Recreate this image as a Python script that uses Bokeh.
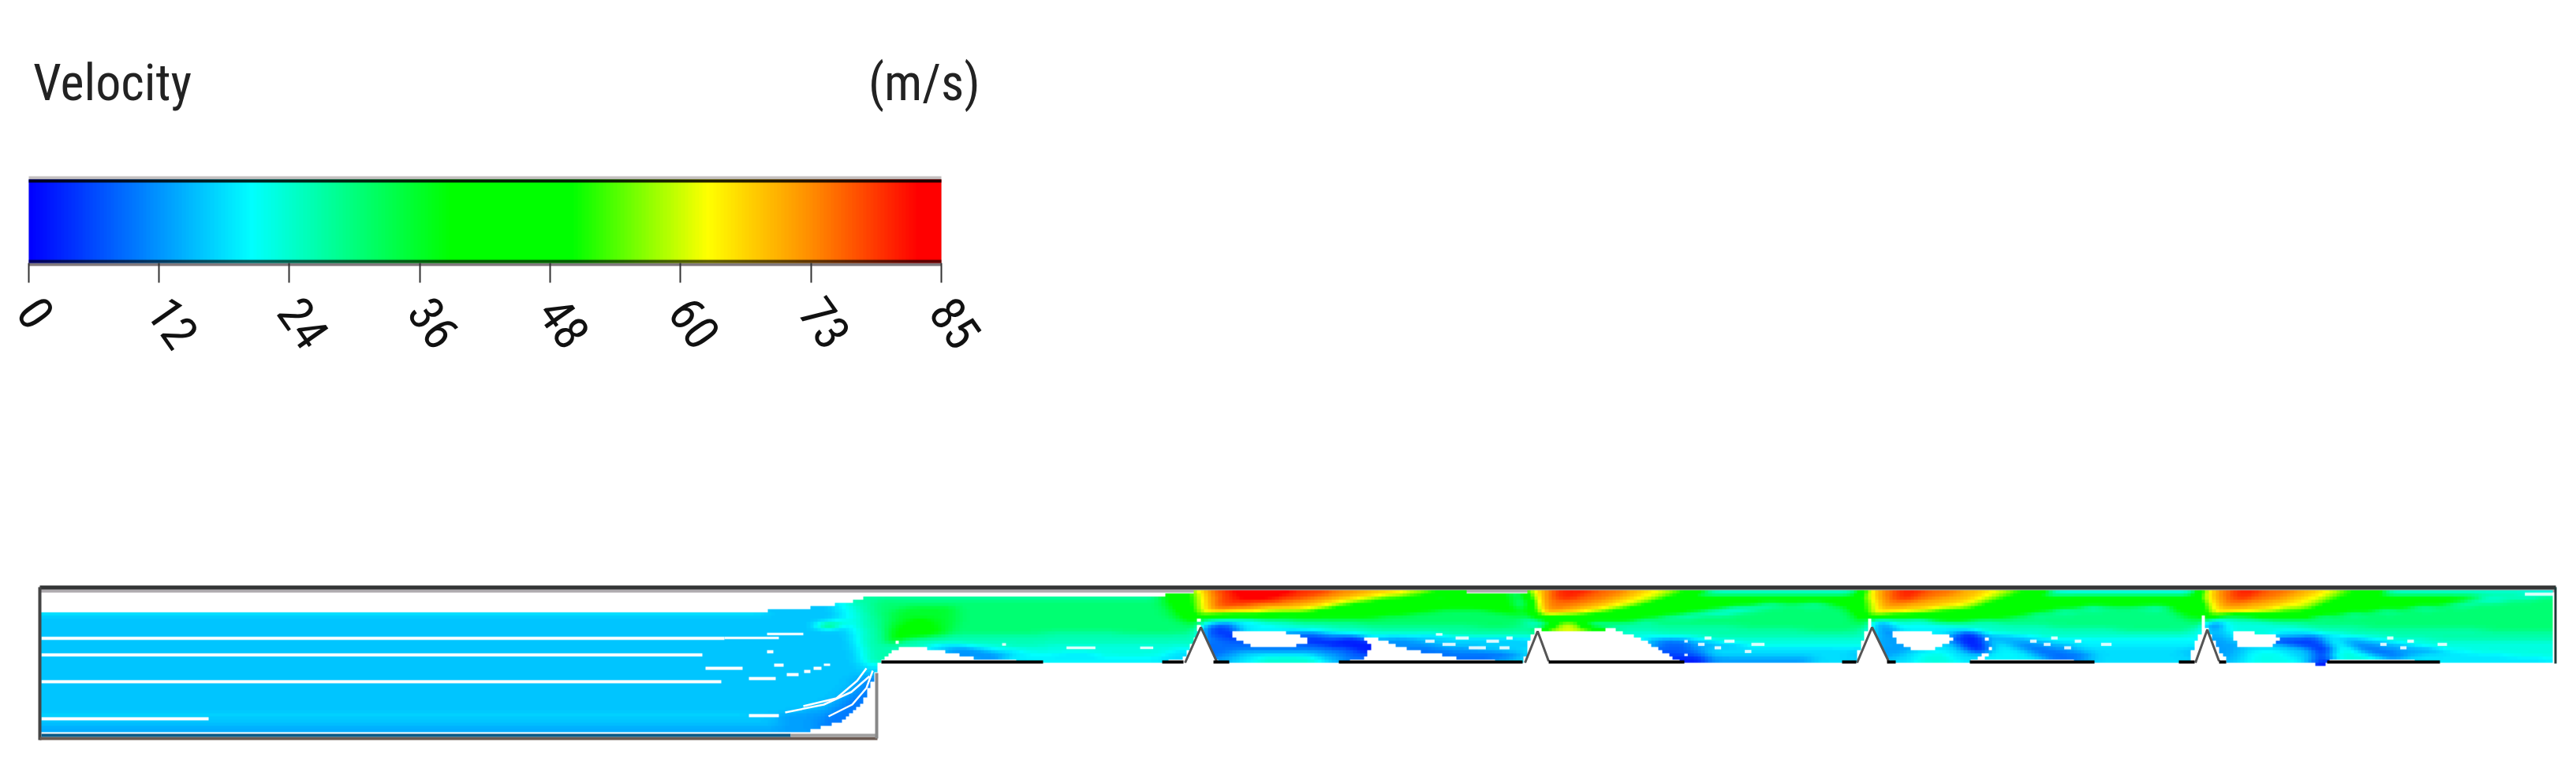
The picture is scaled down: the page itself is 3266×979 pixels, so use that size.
from bokeh.plotting import figure
from bokeh.layouts import column
from bokeh.models import LinearColorMapper, Range1d, FixedTicker, Label
from bokeh.embed import file_html
from bokeh.resources import INLINE
import numpy as np

# ---- colour scale --------------------------------------------------------
V_MIN, V_MAX = 0, 85
stop_v = [0, 20.7, 30, 39.3, 50.7, 63.3, 73, 83, 85]
stop_rgb = [(0,0,255),(0,255,255),(0,255,128),(0,255,0),(0,255,0),(255,255,0),(255,140,0),(255,0,0),(255,0,0)]
tick_values = [0, 12.14, 24.28, 36.43, 48.57, 60.71, 72.86, 85]
tick_labels = ["0", "12", "24", "36", "48", "60", "73", "85"]

lv = np.arange(256) / 255 * (V_MAX - V_MIN)
palette = ["#%02x%02x%02x" % tuple(int(round(np.interp(a, stop_v, [c[i] for c in stop_rgb]))) for i in range(3)) for a in lv]
mapper = LinearColorMapper(palette=palette, low=V_MIN, high=V_MAX, nan_color="#00000000")

# ---- velocity regions: (velocity, outline) in crop units of each section ---
INLET = [
 (16, [(52,777),(972,777),(972,773),(1025,773),(1025,768),(1056,768),(1056,764),(1086,764),(1086,760),(1110,756),(1113,840),(1109,853),(1094,890),(1071,912),(1033,925),(1002,930),(52,930)]),
 (19, [(52,777),(972,777),(972,781),(52,781)]),
 (18, [(52,905),(950,905),(950,909),(52,909)]),
 (14, [(52,922),(1000,922),(1002,930),(52,930)]),
 (13, [(985,905),(1040,900),(1075,875),(1095,850),(1109,853),(1094,890),(1071,912),(1033,925),(1002,930),(985,925)]),
 (10, [(1040,912),(1070,893),(1093,868),(1107,852),(1109,853),(1094,890),(1071,912),(1033,925)]),
]
SEC_A = [
 (21, [(170,68),(260,45),(335,38),(345,285),(300,330),(270,270),(230,170),(190,100)]),
 (27, [(240,50),(335,28),(1430,28),(1560,170),(1540,190),(1500,205),(700,205),(400,205),(350,285),(300,285),(285,200),(265,100)]),
 (31, [(320,42),(1430,42),(1555,165),(1500,172),(1000,170),(600,182),(400,198),(365,180),(325,90)]),
 (36, [(390,90),(470,70),(640,65),(620,170),(480,185),(400,195),(370,190)]),
 (41, [(380,218),(375,185),(420,145),(470,120),(530,110),(580,178),(480,188),(420,200)]),
 (36, [(1420,30),(1525,30),(1560,140),(1500,130),(1440,100)]),
 (42, [(1430,25),(1520,25),(1558,130),(1550,158),(1490,110),(1435,60)]),
 (53, [(1505,20),(1530,18),(1566,90),(1566,122),(1540,110)]),
 (26, [(400,208),(700,190),(1500,180),(1545,185),(1530,220),(1500,270),(1410,285),(970,285),(745,272),(665,262),(605,245),(530,235),(530,222),(450,222),(390,240),(350,275)]),
 (23, [(520,210),(850,220),(1450,215),(1520,205),(1500,270),(1410,285),(970,285),(745,272),(665,262),(605,245),(530,235)]),
 (18, [(530,235),(535,210),(640,210),(700,225),(850,240),(1000,250),(1410,262),(1500,225),(1518,220),(1500,270),(1410,285),(970,285),(745,272),(665,262),(605,245)]),
 (20, [(850,252),(1420,262),(1410,285),(970,285),(790,272)]),
 (12, [(605,225),(670,225),(740,240),(850,250),(800,272),(745,272),(665,260),(605,245)]),
]
SEC_B = [
 (20, [(95,150),(100,18),(1380,18),(1370,160),(1340,210),(1325,285),(1075,272),(1070,262),(980,250),(880,235),(800,200),(740,185),(710,185),(745,225),(710,270),(620,285),(210,285),(150,275),(120,220),(110,180)]),
 (24, [(100,120),(500,130),(800,130),(1100,100),(1300,110),(1370,150),(1345,190),(1100,190),(800,180),(500,165),(300,130),(110,130)]),
 (28, [(110,110),(500,125),(800,125),(1100,92),(1300,105),(1370,150),(1340,175),(1100,175),(800,165),(500,140),(300,122)]),
 (32, [(120,110),(500,115),(800,100),(1100,75),(1290,100),(1350,145),(1200,150),(1000,140),(800,140),(500,125),(300,118)]),
 (41, [(100,95),(500,90),(650,70),(800,55),(1000,40),(1100,25),(1285,25),(1295,55),(1345,130),(1300,105),(1180,85),(1000,85),(800,110),(500,122),(100,122)]),
 (50, [(60,3),(1115,3),(1105,20),(1000,35),(800,60),(650,75),(540,95),(130,105),(105,118),(85,118)]),
 (62, [(75,3),(1000,3),(950,20),(800,35),(640,60),(540,85),(400,95),(130,95),(105,108),(85,108)]),
 (68, [(95,3),(900,3),(850,18),(640,45),(540,70),(400,85),(130,92),(108,100)]),
 (73, [(108,3),(780,3),(640,30),(500,60),(350,72),(230,85),(135,90),(125,60)]),
 (79, [(150,3),(640,3),(560,25),(450,45),(350,57),(230,68),(170,80)]),
 (85, [(210,6),(470,6),(350,42),(235,42)]),
 (12, [(740,190),(920,195),(1050,215),(1300,215),(1335,225),(1290,268),(1075,268),(980,250),(880,235),(800,200)]),
 (17, [(900,170),(1100,190),(1340,185),(1340,215),(1290,250),(1100,225),(960,215)]),
 (9,  [(900,222),(1050,245),(1290,255),(1285,270),(1075,272),(1070,262),(980,250),(880,235)]),
 (9,  [(105,140),(215,130),(240,160),(500,165),(520,170),(690,175),(745,225),(710,272),(620,285),(210,285),(150,275),(120,220)]),
 (14, [(165,285),(150,270),(240,235),(510,235),(620,250),(650,285)]),
 (19, [(210,285),(260,250),(520,250),(610,285)]),
 (24, [(290,285),(340,262),(510,262),(570,285)]),
 (2,  [(510,170),(560,200),(700,190),(745,225),(712,260),(650,225),(505,215)]),
 (4,  [(130,145),(200,135),(215,180),(240,210),(180,190),(130,170)]),
]
SEC_C = [
 (23, [(45,135),(60,10),(1310,10),(1310,160),(1280,230),(1270,285),(610,285),(575,270),(520,235),(470,205),(370,165),(320,150),(60,150)]),
 (27, [(260,125),(600,130),(800,120),(1150,110),(1310,140),(1280,195),(800,190),(500,170),(370,165),(320,150),(270,140)]),
 (31, [(400,130),(800,100),(1000,60),(1200,70),(1300,150),(1250,170),(900,150),(600,140)]),
 (42, [(0,20),(30,110),(60,128),(260,125),(400,128),(600,100),(800,70),(1000,55),(1200,65),(1310,150),(1280,28),(690,28)]),
 (29, [(690,18),(1285,18),(1285,28),(690,28)]),
 (50, [(10,3),(690,3),(690,18),(560,45),(400,85),(270,105),(60,112),(30,60)]),
 (62, [(25,3),(610,3),(500,45),(400,72),(270,95),(60,110),(40,60)]),
 (69, [(50,3),(520,3),(400,45),(260,85),(60,105),(55,50)]),
 (75, [(80,3),(430,3),(330,40),(200,72),(90,90)]),
 (81, [(130,3),(300,3),(200,40),(130,50)]),
 (62, [(65,160),(65,148),(105,148),(105,133),(230,133),(230,148),(320,148),(320,160)]),
 (14, [(470,190),(600,190),(800,215),(1000,235),(1230,240),(1280,230),(1270,285),(610,285),(575,270),(520,235)]),
 (18, [(700,225),(1250,225),(1270,285),(700,285)]),
 (8,  [(500,205),(620,205),(700,262),(1100,262),(1100,285),(610,285),(575,270),(520,235)]),
 (2,  [(550,235),(620,262),(690,262),(690,285),(610,285),(570,262)]),
 (13, [(700,265),(1100,265),(1100,285),(700,285)]),
]
SEC_D = [
 (20, [(60,150),(70,10),(1320,10),(1320,160),(1290,230),(1280,285),(920,285),(750,272),(495,272),(520,235),(505,185),(440,285),(130,285),(100,220)]),
 (25, [(100,120),(500,130),(800,125),(1150,110),(1320,140),(1280,190),(800,190),(500,170),(300,140),(100,135)]),
 (30, [(450,125),(800,90),(1000,70),(1200,80),(1310,150),(1250,170),(900,155),(600,140)]),
 (42, [(0,20),(40,110),(100,120),(430,125),(600,110),(800,80),(1000,65),(1200,75),(1320,150),(1285,28),(750,28)]),
 (29, [(750,18),(1295,18),(1295,28),(750,28)]),
 (50, [(20,3),(750,3),(740,22),(560,55),(430,95),(200,105),(100,108),(50,125),(30,60)]),
 (62, [(35,3),(640,3),(560,30),(430,75),(270,90),(100,100),(60,110)]),
 (69, [(60,3),(540,3),(430,50),(280,80),(90,100)]),
 (75, [(100,3),(430,3),(350,35),(200,62),(120,70)]),
 (81, [(160,3),(300,3),(220,40),(160,40)]),
 (14, [(495,175),(620,185),(800,215),(1000,240),(1225,240),(1290,225),(1280,285),(920,285),(750,272),(690,255),(600,225),(530,195)]),
 (18, [(850,225),(1250,225),(1280,285),(915,285)]),
 (9,  [(600,205),(720,225),(900,255),(1000,262),(750,272),(690,255)]),
 (13, [(85,135),(130,125),(150,190),(215,235),(160,285),(130,275),(100,220)]),
 (18, [(340,150),(400,150),(500,190),(520,235),(440,285),(160,285),(130,275),(215,235),(340,220)]),
 (23, [(220,285),(250,250),(340,240),(410,285)]),
 (8,  [(90,135),(130,130),(150,180),(120,170)]),
 (2,  [(380,200),(400,170),(470,170),(520,225),(490,250),(430,240)]),
]
SEC_E = [
 (23, [(45,150),(60,10),(1378,10),(1378,287),(940,287),(750,272),(510,272),(530,230),(510,197),(470,285),(135,285),(100,240),(70,180)]),
 (27, [(100,115),(500,125),(800,110),(1100,100),(1378,90),(1378,200),(900,195),(500,165),(300,135),(100,130)]),
 (31, [(120,108),(500,112),(800,85),(1100,60),(1378,30),(1378,170),(1000,155),(700,150),(500,140),(300,125)]),
 (42, [(0,20),(40,110),(90,108),(430,115),(600,95),(800,78),(1000,60),(1120,30),(725,30)]),
 (29, [(725,18),(1262,18),(1262,30),(725,30)]),
 (50, [(10,3),(725,3),(725,22),(560,55),(430,100),(250,108),(100,105),(50,125),(30,60)]),
 (62, [(25,3),(610,3),(560,20),(430,75),(270,95),(100,100),(50,110)]),
 (69, [(50,3),(520,3),(400,50),(260,85),(90,100)]),
 (75, [(90,3),(420,3),(330,40),(200,62),(115,75)]),
 (81, [(150,3),(290,3),(210,40),(150,40)]),
 (14, [(470,175),(620,190),(800,215),(950,235),(1000,260),(945,285),(750,272),(640,245),(545,197)]),
 (19, [(750,265),(1000,240),(1378,270),(1378,287),(940,287)]),
 (9,  [(580,205),(700,225),(820,255),(750,272),(640,245)]),
 (13, [(60,135),(100,120),(130,190),(175,222),(135,285),(100,240),(70,180)]),
 (17, [(240,175),(430,165),(510,197),(530,240),(470,285),(135,285),(175,222),(305,222)]),
 (22, [(190,285),(220,240),(320,235),(420,285)]),
 (5,  [(340,190),(470,180),(530,225),(510,260),(430,230),(320,208)]),
 (1,  [(470,225),(530,225),(510,285),(508,297),(470,297),(470,280)]),
 (6,  [(60,135),(95,125),(100,155),(70,165)]),
]
sections = [(1000, SEC_A), (1490, SEC_B), (1930, SEC_C), (2350, SEC_D), (2780, SEC_E)]

# holes in the solution, in crop units of a section
HOLES = [
 (1490, [(220,160),(400,160),(420,172),(500,190),(500,208),(450,222),(285,222),(225,190),(215,175)]),
 (2350, [(148,160),(290,160),(290,172),(340,172),(378,197),(340,220),(310,232),(215,232),(165,210),(148,185)]),
 (2780, [(150,160),(240,160),(240,172),(305,172),(330,197),(305,222),(175,222),(150,185)]),
]
SPECKS = [  # ox, x0, y0, x1, y1 (crop units)
 (1000,810,210,825,220),(1000,1055,223,1165,233),(1000,1335,223,1385,233),
 (1490,990,172,1015,182),(1490,1065,185,1115,197),(1490,950,197,985,209),(1490,1015,209,1065,221),(1490,1182,197,1230,209),(1490,1115,222,1180,234),(1490,1232,222,1270,234),(1490,1258,185,1282,197),
 (1930,692,185,718,197),(1930,767,197,806,209),(1930,667,209,692,221),(1930,870,209,920,221),(1930,730,222,755,234),(1930,845,236,870,248),(1930,615,198,628,208),(1930,615,250,628,260),
 (2350,750,185,775,197),(2350,840,197,865,209),(2350,670,197,695,209),(2350,722,209,748,221),(2350,800,222,826,234),(2350,940,209,980,221),
 (2780,738,185,762,197),(2780,815,197,840,209),(2780,712,209,736,221),(2780,788,222,812,234),(2780,930,209,966,221),
 (2780,1262,18,1378,30),
]
INLET_GAPS = [  # x0, y0, x1, y1
 (52,807,918,811),(52,828,890,832),(52,862,914,866),(52,909,264,913),(949,905,987,909),
 (894,845,941,849),(949,858,983,862),(997,853,1012,857),(981,841,993,845),(972,824,980,828),(1019,849,1027,853),(1031,845,1041,849),(1044,841,1052,844),
 (918,807,987,810),(972,802,1018,805),
]
ARC_X = [[995,1044,1079,1102],[1018,1060,1086,1098],[1050,1080,1098,1106]]
ARC_Y = [[903,893,877,857],[895,885,863,847],[908,893,872,850]]
SPOT_V = [30,30,52,42]
SPOT_BOX = [(1040,790,1057,798),(1061,785,1069,793),(1044,794,1052,798),(1062,789,1066,792)]

RIB_X = [(1502,1522,1542),(1933,1949,1963),(2354,2373,2394),(2783,2798,2813)]
RIB_Y = [(840,795,838),(840,800,838),(840,795,838),(840,798,838)]
FLOOR = [(1117,1322),(1473,1500),(1538,1558),(1697,1930),(1963,2135),(2335,2353),(2392,2403),(2497,2655),(2762,2782),(2813,2822),(2950,3093)]

PAGE_W = 3260
units_per_px = (V_MAX - V_MIN) / (1193 - 36)

# ---- legend ---------------------------------------------------------------
leg = figure(width=PAGE_W, height=480,
             x_range=Range1d(V_MIN - 36 * units_per_px, V_MAX + (PAGE_W - 1193) * units_per_px),
             y_range=Range1d(337, 50),
             output_backend="svg", toolbar_location=None, min_border_left=0, min_border_right=0,
             min_border_top=50, min_border_bottom=143, outline_line_color=None)
leg.grid.visible = False
leg.yaxis.visible = False
ax = leg.xaxis[0]
ax.ticker = FixedTicker(ticks=tick_values)
ax.major_label_overrides = {t: s for t, s in zip(tick_values, tick_labels)}
ax.major_label_orientation = -0.96
ax.major_label_standoff = 26
ax.major_label_text_font = "Roboto Condensed"
ax.major_label_text_font_size = "62px"
ax.major_label_text_color = "#111111"
ax.major_tick_in = 4
ax.major_tick_out = 21
ax.major_tick_line_color = "#333333"
ax.major_tick_line_width = 2
ax.minor_tick_line_color = None
ax.axis_line_color = None

leg.quad(left=[V_MIN], right=[V_MAX], top=[223], bottom=[337], fill_color="#c4c0c0", line_color=None)
leg.quad(left=[V_MIN], right=[V_MAX], top=[333], bottom=[337], fill_color="#80787c", line_color=None)
ramp = np.linspace(V_MIN, V_MAX, 1024).reshape(1, -1)
leg.image(image=[ramp], x=V_MIN, y=227, dw=V_MAX - V_MIN, dh=106, color_mapper=mapper)
leg.quad(left=[V_MIN], right=[V_MAX], top=[227], bottom=[231], fill_color="black", fill_alpha=0.88, line_color=None)
leg.quad(left=[V_MIN], right=[V_MAX], top=[329], bottom=[333], fill_color="black", fill_alpha=0.62, line_color=None)

for txt, xv in (("Velocity", 0.4), ("(m/s)", 78.2)):
    leg.add_layout(Label(x=xv, y=105, text=txt, text_font="Roboto Condensed", text_font_size="64px",
                         text_color="#222222", text_baseline="alphabetic", text_align="left"))

# ---- flow domain -----------------------------------------------------------
dom = figure(width=PAGE_W, height=480, x_range=Range1d(0, PAGE_W), y_range=Range1d(960, 480),
             output_backend="svg", toolbar_location=None, min_border=0, outline_line_color=None)
dom.grid.visible = False
dom.axis.visible = False

# sample the regions on the solver's cell grid
CX, CY = 4.5, 4.0
X0, Y0 = 50.0, 748.0
nx, ny = int((3240 - X0) / CX), int((944 - Y0) / CY)
cx = X0 + (np.arange(nx) + 0.5) * CX
cy = Y0 + (np.arange(ny) + 0.5) * CY
GX, GY = np.meshgrid(cx, cy)
field = np.full(GX.shape, np.nan)

def inside(pts):
    px = np.array([p[0] for p in pts], float); py = np.array([p[1] for p in pts], float)
    i0 = max(int((px.min() - X0) / CX) - 1, 0); i1 = min(int((px.max() - X0) / CX) + 2, nx)
    j0 = max(int((py.min() - Y0) / CY) - 1, 0); j1 = min(int((py.max() - Y0) / CY) + 2, ny)
    m = np.zeros(GX.shape, bool)
    if i0 >= i1 or j0 >= j1:
        return m
    x = GX[j0:j1, i0:i1]; y = GY[j0:j1, i0:i1]
    c = np.zeros(x.shape, bool)
    for k in range(len(px)):
        a, b = k, (k + 1) % len(px)
        cross = (py[a] > y) != (py[b] > y)
        xi = px[a] + (y - py[a]) * (px[b] - px[a]) / (py[b] - py[a] + 1e-9)
        c ^= cross & (x < xi)
    m[j0:j1, i0:i1] = c
    return m

for v, pts in INLET:
    field[inside(pts)] = v
for ox, layers in sections:
    for v, pts in layers:
        field[inside([(ox + a / 3, 745 + b / 3) for a, b in pts])] = v
for ox, h in HOLES:
    field[inside([(ox + a / 3, 745 + b / 3) for a, b in h])] = np.nan
for v, b in zip(SPOT_V, SPOT_BOX):
    field[inside([(b[0], b[1]), (b[2], b[1]), (b[2], b[3]), (b[0], b[3])])] = v

# the solver's cells blend into one another
def soften(a, sigma, axis):
    r = int(3 * sigma)
    k = np.exp(-0.5 * (np.arange(-r, r + 1) / sigma) ** 2); k /= k.sum()
    return np.apply_along_axis(lambda s: np.convolve(s, k, mode="same"), axis, a)
mask = ~np.isnan(field)
num = np.where(mask, field, 0.0); den = mask.astype(float)
for sigma, axis in ((2.2, 1), (0.8, 0)):
    num = soften(num, sigma, axis); den = soften(den, sigma, axis)
smooth = np.where(mask, num / np.maximum(den, 1e-6), np.nan)

dom.quad(left=[50], right=[3240], top=[746], bottom=[751], fill_color="#b0acb0", line_color=None)
dom.image(image=[smooth], x=X0, y=Y0, dw=nx * CX, dh=ny * CY, color_mapper=mapper)

sp = SPECKS
dom.quad(left=[s[0] + s[1] / 3 for s in sp], right=[s[0] + s[3] / 3 for s in sp],
         top=[745 + s[2] / 3 for s in sp], bottom=[745 + s[4] / 3 for s in sp], fill_color="white", fill_alpha=0.85, line_color=None)
g = INLET_GAPS
dom.quad(left=[s[0] for s in g], right=[s[2] for s in g], top=[s[1] for s in g], bottom=[s[3] for s in g],
         fill_color="white", line_color=None)
dom.multi_line(ARC_X, ARC_Y, line_color="white", line_width=2.5)

# walls
dom.patches([list(x) for x in RIB_X], [list(y) for y in RIB_Y], fill_color="white", line_color=None)
dom.multi_line([list(x) for x in RIB_X], [list(y) for y in RIB_Y], line_color="#555555", line_width=3)
dom.quad(left=[f[0] for f in FLOOR], right=[f[1] for f in FLOOR], top=837, bottom=841, fill_color="black", line_color=None)
dom.quad(left=[50], right=[3240], top=[742], bottom=[747], fill_color="#333535", line_color=None)
dom.quad(left=[48], right=[52], top=[744], bottom=[938], fill_color="#444444", line_color=None)
dom.quad(left=[50], right=[1112], top=[934], bottom=[938], fill_color="#6b5a52", line_color=None)
dom.quad(left=[52], right=[1002], top=[930], bottom=[934], fill_color="#0a5a88", line_color=None)
dom.quad(left=[1002], right=[1110], top=[930], bottom=[934], fill_color="#a0a0a0", line_color=None)
dom.quad(left=[1109], right=[1113], top=[853], bottom=[936], fill_color="#888888", line_color=None)
dom.quad(left=[3238], right=[3241], top=[744], bottom=[841], fill_color="#1f3a38", line_color=None)

page = column(leg, dom, spacing=0)
open("out.html", "w").write(file_html(page, INLINE))
